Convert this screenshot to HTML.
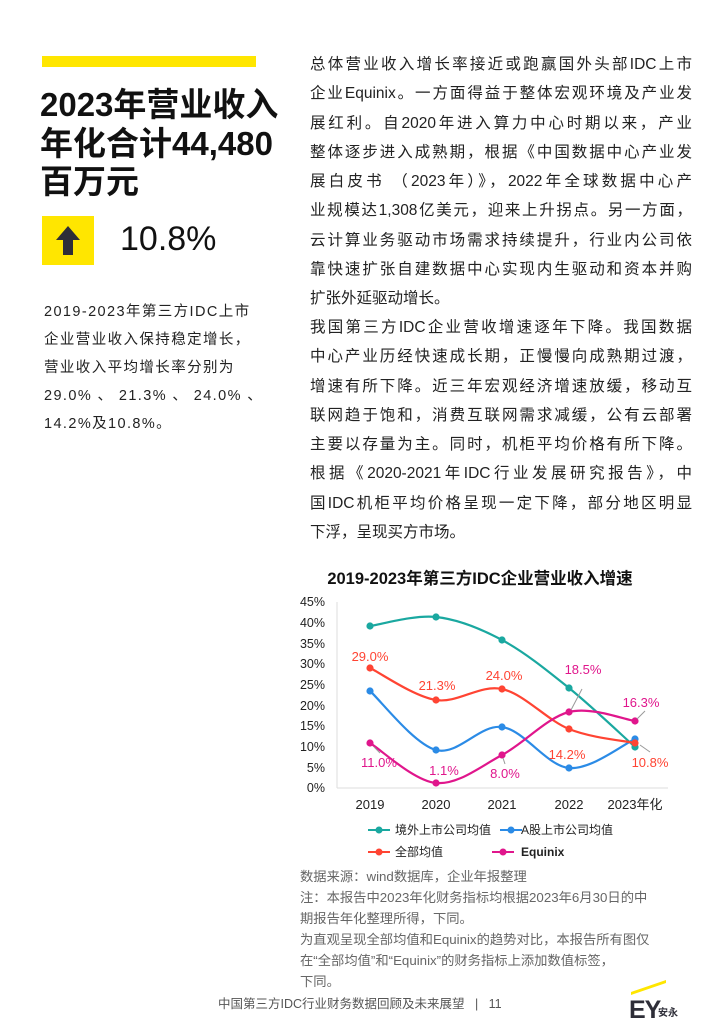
<!DOCTYPE html>
<html><head><meta charset="utf-8"><style>
body{margin:0;width:710px;height:1025px;background:#fff;position:relative;overflow:hidden;font-family:"Liberation Sans","Noto Sans CJK SC",sans-serif;color:#222;}
.a{position:absolute;}
.t{font-weight:bold;font-size:33px;line-height:38.5px;left:40px;top:86px;width:250px;color:#111;}
.p{left:44px;top:298px;font-size:14.5px;line-height:28px;width:250px;color:#222;letter-spacing:1.4px;white-space:nowrap;}
.r{left:310px;width:382px;font-size:15.5px;line-height:29.3px;color:#222;}
.r div{text-align:justify;text-align-last:justify;white-space:nowrap;}
.r div.l{text-align-last:left;}
.n{left:300px;top:866px;font-size:13.3px;line-height:21px;color:#666;white-space:nowrap;}
</style></head><body>
<div class="a" style="left:42px;top:56px;width:214px;height:11px;background:#ffe600"></div>
<div class="a t">2023年营业收入<br>年化合计44,480<br>百万元</div>
<div class="a" style="left:42px;top:216px;width:52px;height:49px;background:#ffe600"></div>
<svg class="a" style="left:42px;top:216px" width="52" height="49"><polygon points="26,10 38,24 31,24 31,39 21,39 21,24 14,24" fill="#2e2e38"/></svg>
<div class="a" style="left:120px;top:220px;font-size:34px;color:#111">10.8%</div>
<div class="a p">2019-2023年第三方IDC上市<br>企业营业收入保持稳定增长，<br>营业收入平均增长率分别为<br>29.0% 、 21.3% 、 24.0% 、<br>14.2%及10.8%。</div>
<div class="a r" style="top:50px">
<div>总体营业收入增长率接近或跑赢国外头部IDC上市</div>
<div>企业Equinix。一方面得益于整体宏观环境及产业发</div>
<div>展红利。自2020年进入算力中心时期以来，产业</div>
<div>整体逐步进入成熟期，根据《中国数据中心产业发</div>
<div>展白皮书 （2023年）》，2022年全球数据中心产</div>
<div>业规模达1,308亿美元，迎来上升拐点。另一方面，</div>
<div>云计算业务驱动市场需求持续提升，行业内公司依</div>
<div>靠快速扩张自建数据中心实现内生驱动和资本并购</div>
<div class="l">扩张外延驱动增长。</div>
</div>
<div class="a r" style="top:313px">
<div>我国第三方IDC企业营收增速逐年下降。我国数据</div>
<div>中心产业历经快速成长期，正慢慢向成熟期过渡，</div>
<div>增速有所下降。近三年宏观经济增速放缓，移动互</div>
<div>联网趋于饱和，消费互联网需求减缓，公有云部署</div>
<div>主要以存量为主。同时，机柜平均价格有所下降。</div>
<div>根据《2020-2021年IDC行业发展研究报告》，中</div>
<div>国IDC机柜平均价格呈现一定下降，部分地区明显</div>
<div class="l">下浮，呈现买方市场。</div>
</div>
<svg class="a" style="left:0;top:0" width="710" height="1025" font-family="Liberation Sans, Noto Sans CJK SC, sans-serif">
<text x="480" y="584" font-size="16.5" font-weight="bold" text-anchor="middle" fill="#111">2019-2023年第三方IDC企业营业收入增速</text>
<g font-size="12.5" fill="#222" text-anchor="end">
<text x="325" y="606">45%</text><text x="325" y="627">40%</text><text x="325" y="648">35%</text><text x="325" y="668">30%</text><text x="325" y="689">25%</text><text x="325" y="710">20%</text><text x="325" y="730">15%</text><text x="325" y="751">10%</text><text x="325" y="772">5%</text><text x="325" y="792">0%</text>
</g>
<line x1="337" y1="602" x2="337" y2="788" stroke="#ddd"/>
<line x1="337" y1="788" x2="668" y2="788" stroke="#ddd"/>
<g font-size="13" fill="#222" text-anchor="middle">
<text x="370" y="809">2019</text><text x="436" y="809">2020</text><text x="502" y="809">2021</text><text x="569" y="809">2022</text><text x="635" y="809">2023年化</text>
</g>
<g id="series"></g>
<g stroke="#999" stroke-width="1"><line x1="374" y1="747" x2="380" y2="753"/><line x1="571" y1="710" x2="582" y2="689"/><line x1="637" y1="719" x2="645" y2="711"/><line x1="640" y1="745" x2="650" y2="752"/><line x1="503" y1="758" x2="505" y2="764"/></g>
<g font-size="13" fill="#ff4433" text-anchor="middle">
<text x="370" y="661">29.0%</text><text x="437" y="690">21.3%</text><text x="504" y="680">24.0%</text><text x="567" y="759">14.2%</text><text x="650" y="767">10.8%</text>
</g>
<g font-size="13" fill="#e0168c" text-anchor="middle">
<text x="379" y="767">11.0%</text><text x="444" y="775">1.1%</text><text x="505" y="778">8.0%</text><text x="583" y="674">18.5%</text><text x="641" y="707">16.3%</text>
</g>
<g font-size="12" fill="#222">
<line x1="368" y1="830" x2="390" y2="830" stroke="#1aa8a0" stroke-width="2"/><circle cx="379" cy="830" r="3.5" fill="#1aa8a0"/><text x="395" y="834">境外上市公司均值</text>
<line x1="500" y1="830" x2="522" y2="830" stroke="#2b8be6" stroke-width="2"/><circle cx="511" cy="830" r="3.5" fill="#2b8be6"/><text x="521" y="834">A股上市公司均值</text>
<line x1="368" y1="852" x2="390" y2="852" stroke="#ff4433" stroke-width="2"/><circle cx="379" cy="852" r="3.5" fill="#ff4433"/><text x="395" y="856">全部均值</text>
<line x1="492" y1="852" x2="514" y2="852" stroke="#e0168c" stroke-width="2"/><circle cx="503" cy="852" r="3.5" fill="#e0168c"/><text x="521" y="856" font-weight="bold">Equinix</text>
</g>
<polygon points="631,992 666,980 666,983 631,995" fill="#ffe600"/>
<text x="629" y="1018" font-size="25" font-weight="bold" fill="#2e2e38" letter-spacing="-1">EY</text>
<text x="658" y="1016" font-size="10" font-weight="bold" fill="#2e2e38">安永</text>
</svg>
<div class="a n">数据来源：wind数据库，企业年报整理<br>注：本报告中2023年化财务指标均根据2023年6月30日的中<br>期报告年化整理所得，下同。<br>为直观呈现全部均值和Equinix的趋势对比，本报告所有图仅<br>在“全部均值”和“Equinix”的财务指标上添加数值标签，<br>下同。</div>
<div class="a" style="left:218px;top:993px;font-size:12.5px;color:#555">中国第三方IDC行业财务数据回顾及未来展望 &nbsp; | &nbsp; 11</div>
<script>
var xs=[370,436,502,569,635];
var S=[["#1aa8a0",[626,617,640,688,747]],["#2b8be6",[691,750,727,768,739]],["#ff4433",[668,700,689,729,743]],["#e0168c",[743,783,755,712,721]]];
var g=document.getElementById("series"),h="";
S.forEach(function(s){var y=s[1],d="M"+xs[0]+","+y[0];
for(var i=0;i<4;i++){var p0=i?i-1:0,p3=i<3?i+2:4;
var c1x=xs[i]+(xs[i+1]-xs[p0])/6,c1y=y[i]+(y[i+1]-y[p0])/6,c2x=xs[i+1]-(xs[p3]-xs[i])/6,c2y=y[i+1]-(y[p3]-y[i])/6;
d+=" C"+c1x+","+c1y+" "+c2x+","+c2y+" "+xs[i+1]+","+y[i+1];}
h+='<path d="'+d+'" fill="none" stroke="'+s[0]+'" stroke-width="2.2"/>';
y.forEach(function(v,i){h+='<circle cx="'+xs[i]+'" cy="'+v+'" r="3.6" fill="'+s[0]+'"/>';});});
g.innerHTML=h;
</script>
</body></html>
